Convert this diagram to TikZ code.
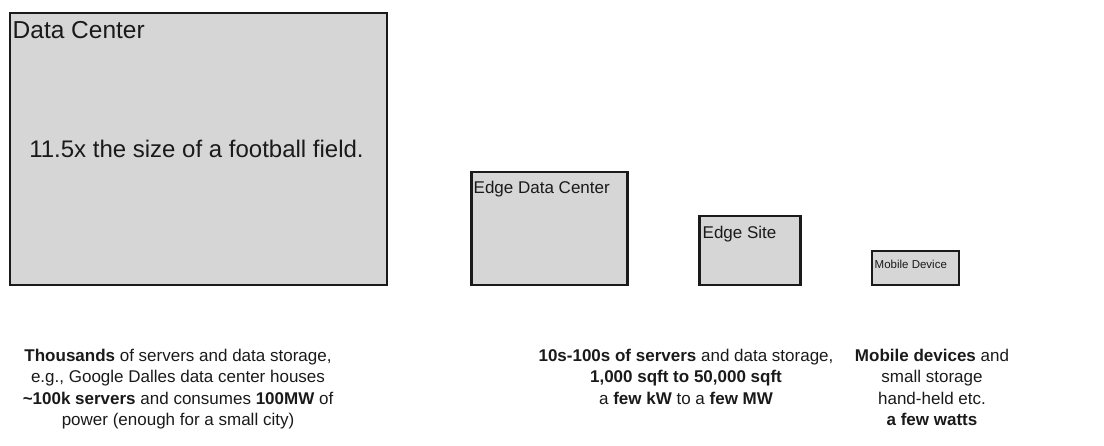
\documentclass[tikz,border=0pt]{standalone}
\usepackage{fontspec}
\setmainfont{Liberation Sans}
\definecolor{boxgray}{HTML}{D6D6D6}
\definecolor{ink}{HTML}{1A1A1A}
\tikzset{
  sizebox/.style={draw=ink, fill=boxgray, line width=2.3pt, anchor=north west, inner sep=0pt, rectangle},
  boxtitle/.style={anchor=base west, inner sep=0pt, text=ink},
  descline/.style={anchor=base, inner sep=0pt, text=ink, font=\fontsize{17}{21}\selectfont},
}
\begin{document}
\begin{tikzpicture}[x=1pt,y=-1pt]
\useasboundingbox (0,0) rectangle (1104,445);
% boxes
\node[sizebox, minimum width=377pt, minimum height=272pt] (dc) at (8.7,11.7) {};
\node[sizebox, minimum width=156pt, minimum height=113pt] (edc) at (470.3,170.7) {};
\node[sizebox, minimum width=101pt, minimum height=69pt] (es) at (698.2,214.7) {};
\node[sizebox, minimum width=87pt, minimum height=34pt] (md) at (870.7,249.7) {};
% titles
\node[boxtitle, font=\fontsize{24.5}{28}\selectfont] (dct) at (12.5,38.5) {Data Center};
\node[anchor=base, inner sep=0pt, text=ink, font=\fontsize{24}{28}\selectfont] (dcs) at (196.5,157) {11.5x the size of a football field.};
\node[boxtitle, font=\fontsize{17}{20}\selectfont] (edct) at (473.5,193) {Edge Data Center};
\node[boxtitle, font=\fontsize{17}{20}\selectfont] (est) at (702.5,238) {Edge Site};
\node[boxtitle, font=\fontsize{11.5}{14}\selectfont] (mdt) at (874.5,268) {Mobile Device};
% descriptions
\node[descline] (l1) at (178,361) {\textbf{Thousands} of servers and data storage,};
\node[descline] (l2) at (178,382.5) {e.g., Google Dalles data center houses};
\node[descline] (l3) at (178,404) {\textbf{\textasciitilde100k servers} and consumes \textbf{100MW} of};
\node[descline] (l4) at (178,425.5) {power (enough for a small city)};
\node[descline] (m1) at (686,361) {\textbf{10s-100s of servers} and data storage,};
\node[descline] (m2) at (686,382.5) {\textbf{1,000 sqft to 50,000 sqft}};
\node[descline] (m3) at (686,404) {a \textbf{few kW} to a \textbf{few MW}};
\node[descline] (r1) at (932,361) {\textbf{Mobile devices} and};
\node[descline] (r2) at (932,382.5) {small storage};
\node[descline] (r3) at (932,404) {hand-held etc.};
\node[descline] (r4) at (932,425.5) {\textbf{a few watts}};
\end{tikzpicture}
\end{document}
